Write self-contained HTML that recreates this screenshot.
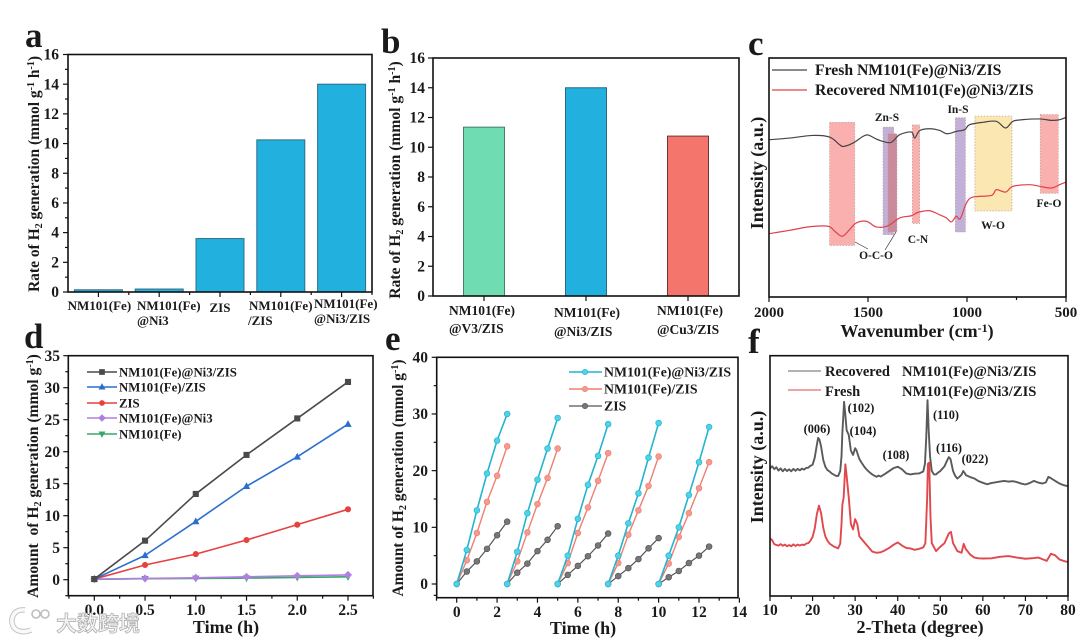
<!DOCTYPE html>
<html lang="en">
<head>
<meta charset="utf-8">
<title>Hydrogen generation composite figure</title>
<style>
html,body{margin:0;padding:0;background:#fff;width:1080px;height:641px;overflow:hidden}
svg{display:block;filter:blur(0.35px)}
text{font-family:"Liberation Serif","Noto Serif CJK SC",serif;font-weight:bold;fill:#1a1a1a}
</style>
</head>
<body>
<svg id="figure" xmlns="http://www.w3.org/2000/svg" width="1080" height="641" viewBox="0 0 1080 641"></svg>
<script>
/* ---------- panel a ---------- */
const aCategories = [["NM101(Fe)"],["NM101(Fe)","@Ni3"],["ZIS"],["NM101(Fe)","/ZIS"],["NM101(Fe)","@Ni3/ZIS"]];
const aValues = [0.15,0.2,3.6,10.25,14.0];
const aTicks = [0,2,4,6,8,10,12,14,16];
/* ---------- panel b ---------- */
const bCategories = [["NM101(Fe)","@V3/ZIS"],["NM101(Fe)","@Ni3/ZIS"],["NM101(Fe)","@Cu3/ZIS"]];
const bValues = [11.35,14.0,10.75];
const bTicks = [0,2,4,6,8,10,12,14,16];
/* ---------- panel c ---------- */
const cFreshWave = [2000,1896,1778,1694,1643,1623,1576,1525,1500,1458,1424,1382,1340,1281,1264,1239,1189,1138,1101,1054,1012,987,919,852,805,768,717,633,574,532,500];
const cFreshValue = [65.8,66.5,67.6,66.9,63.7,63.0,64.4,67.2,67.8,66.1,65.1,64.7,67.9,69.0,66.5,69.6,70.4,69.7,68.3,69.3,70.0,72.1,73.1,73.5,70.7,73.5,74.2,74.5,73.9,74.2,75.2];
const cRecoveredWave = [2000,1896,1795,1702,1668,1630,1593,1559,1508,1458,1399,1340,1281,1247,1189,1138,1104,1079,1054,1034,1003,970,877,852,805,768,683,633,574,532,500];
const cRecoveredValue = [26.5,27.9,29.4,29.6,27.5,25.4,28.2,31.0,31.7,29.3,29.8,33.1,34.0,35.4,36.1,34.4,33.1,31.4,33.8,32.8,39.3,41.8,42.5,44.9,43.9,46.3,47.0,46.3,45.6,47.0,48.1];
const cTicks = [2000,1500,1000,500];
const cBandFrom = [1694,1424,1399,1276,1059,960,630];
const cBandTo = [1567,1370,1354,1239,1008,773,539];
const cBandHigh = [73.1,71.1,68.3,72.0,75.0,75.7,76.3];
const cBandLow = [21.6,26.1,27.2,30.8,27.2,36.0,43.4];
const cBandKinds = ["pink","purple","rose","pink","purple","yellow","pink"];
/* ---------- panel d ---------- */
const dTimes = [0,0.5,1.0,1.5,2.0,2.5];
const dComposite = [0.1,6.1,13.4,19.5,25.2,30.9];
const dBinary = [0.1,3.8,9.1,14.6,19.2,24.3];
const dZis = [0.1,2.3,4.0,6.2,8.6,11.0];
const dNi3 = [0.1,0.2,0.3,0.45,0.6,0.75];
const dMof = [0.05,0.15,0.2,0.25,0.35,0.45];
const dXTicks = [0,0.5,1.0,1.5,2.0,2.5];
const dYTicks = [0,5,10,15,20,25,30,35];
/* ---------- panel e ---------- */
const eCycleTimes = [0,0.5,1.0,1.5,2.0,2.5];
const eCycleStarts = [0,2.5,5,7.5,10];
const eComposite = [[0,6,13,19.5,25.3,30],[0,5.7,12.5,18.4,23.9,29.3],[0,5,11.5,17.5,22.6,28.2],[0,5,10.7,16,22.3,28.4],[0,5,10,15.7,21.5,27.7]];
const eBinary = [[0,4.2,9,14.5,19.1,24.3],[0,4,9.1,14.1,18.7,23.9],[0,3.7,9,13.5,18.2,23.1],[0,3.7,8.7,13,17.3,22.5],[0,3.6,8.3,12.5,16.9,21.5]];
const eZis = [[0,2.2,4,6.2,8.6,11],[0,2,3.6,5.8,7.8,10.2],[0,1.6,3.2,4.9,6.8,8.9],[0,1.4,2.8,4.4,6.3,8.1],[0,1.2,2.3,3.7,5,6.6]];
const eXTicks = [0,2,4,6,8,10,12,14];
const eYTicks = [0,10,20,30,40];
/* ---------- panel f ---------- */
const fRecoveredTheta = [10,10.5,11,11.5,12,12.5,13,13.5,14,14.5,15,15.5,16,16.5,17,17.5,18,18.5,19,19.5,20,20.5,21,21.3,21.6,22,22.5,23,23.5,24,24.5,25,25.5,26,26.5,26.8,27,27.2,27.4,27.7,28,28.5,29,29.5,30,30.3,30.7,31,31.5,32,32.5,33,33.5,34,35,35.5,36,37,38,39,40,41,42,43,44,45,46,46.4,46.7,47,47.3,47.6,48,48.5,49,49.5,50,50.5,51,51.5,52,52.4,53,53.5,54,54.5,55,55.4,55.8,56,57,58,59,60,61,62,63,64,65,66,67,68,69,70,71,72,73,74,74.8,75.4,76,77,78,79,80];
const fRecoveredValue = [53.1,54.0,52.8,53.6,52.2,53.1,51.9,52.9,52.0,52.7,51.9,52.9,52.1,52.9,52.3,53.0,52.6,53.3,53.4,54.2,54.6,57.5,62.8,65.8,65.2,62.2,56.7,53.8,52.4,51.8,51.0,50.5,50.0,49.9,52.0,58.2,68,74,80.8,75.4,69,67,60.5,58.7,61.5,60.7,58.5,57,55.5,54.2,53,52.1,51.3,50.6,49.6,50.1,49.7,50.8,52,53.2,53.8,52.7,51,50.6,50.9,51,51.8,55,66,81.5,68,58,52,50.6,50.6,51.4,52,53,54,56,57.8,57,52,50,48.9,49.6,50.5,52,51,50.3,49.5,48.9,47.8,47.1,46.5,47.0,47.3,47.6,47.9,47.6,47.8,47.4,46.8,46.4,47,47.9,47.2,46.8,47.3,49.6,49,47.9,46.8,46.1,45.7];
const fFreshTheta = [10,10.5,11,11.5,12,12.5,13,13.5,14,14.5,15,15.5,16,16.5,17,17.5,18,18.5,19,19.5,20,20.5,21,21.5,22,22.5,23,23.5,24,25,26,26.5,26.8,27,27.3,27.7,28,28.5,29,29.5,30,30.5,31,32,33,34,35,36,37,38,39,40,41,42,43,44,45,46,46.5,46.9,47.1,47.4,47.7,48,49,50,51,52,52.5,53,54,55,55.5,56,57,58,59,60,62,64,66,68,70,72,73,75,76,77,78,79,80];
const fFreshValue = [24,23.2,21.6,21.2,21.0,21.6,20.9,21.4,20.7,21.2,20.7,21.5,20.8,21.4,21.0,21.4,21.2,21.8,22,23,24.6,28,34,37.6,34.5,28.5,24.8,23,21.8,20.6,19.8,21.8,30,38,41,54.8,50,41,30,27.7,32,30,24.8,22.7,20.6,18.5,18,18.2,19,20,21.3,22.3,21,20,19.8,19.2,19.6,20.2,22,40,55,55.5,33,22,18.7,20.5,22,26,26.7,22,18.7,18,21.7,19.5,17.3,16,15.7,15.6,15.7,16.3,16.6,16,15.5,15.8,16,14.6,17.6,16.9,15.2,14.6,14.1];
const fTicks = [10,20,30,40,50,60,70,80];

const svg = document.getElementById('figure');
const NS = 'http://www.w3.org/2000/svg';

function mk(type, attrs, name, parent) {
  const el = document.createElementNS(NS, type);
  for (const k in attrs) el.setAttribute(k, attrs[k]);
  
  
  (parent || svg).appendChild(el);
  return el;
}
function txt(x, y, html, size, name, anchor, rot, parent) {
  const a = {x: x, y: y, 'font-size': size, 'text-anchor': anchor || 'start'};
  if (rot) a.transform = 'rotate(-90 ' + x + ' ' + y + ')';
  const el = mk('text', a, name, parent);
  el.innerHTML = html;
  return el;
}
function scale(d0, d1, r0, r1) {
  return function (v) { return r0 + (v - d0) / (d1 - d0) * (r1 - r0); };
}
function frame(name, L, T, R, B) {
  return mk('rect', {x: L, y: T, width: R - L, height: B - T, fill: 'none', stroke: '#111', 'stroke-width': 1.6}, name);
}
function tick(x1, y1, x2, y2, name) {
  mk('line', {x1: x1, y1: y1, x2: x2, y2: y2, stroke: '#111', 'stroke-width': 1.2}, name);
}
function yAxis(prefix, ticks, Y, L, labelRight, size, minorStep) {
  ticks.forEach(function (v, i) {
    tick(L, Y(v), L - 5, Y(v), prefix + '-y-tick');
    txt(labelRight, Y(v) + size * 0.33, String(v), size, prefix + '-y-tick-label', 'end');
    if (minorStep && i < ticks.length - 1) tick(L, Y(v + minorStep), L - 3, Y(v + minorStep), prefix + '-y-minor-tick');
  });
}
function xAxis(prefix, ticks, labels, X, B, baseline, size, minorStep, lowerLimit, upperLimit) {
  ticks.forEach(function (v, i) {
    tick(X(v), B, X(v), B + 5, prefix + '-x-tick');
    txt(X(v), baseline, labels[i], size, prefix + '-x-tick-label', 'middle');
    if (minorStep && v + minorStep <= upperLimit) tick(X(v + minorStep), B, X(v + minorStep), B + 3, prefix + '-x-minor-tick');
  });
  if (minorStep && ticks[0] - minorStep >= lowerLimit) tick(X(ticks[0] - minorStep), B, X(ticks[0] - minorStep), B + 3, prefix + '-x-minor-tick');
}
function polyline(xs, ys, color, width, name) {
  const pts = xs.map(function (v, i) { return v.toFixed(2) + ',' + ys[i].toFixed(2); }).join(' ');
  return mk('polyline', {points: pts, fill: 'none', stroke: color, 'stroke-width': width, 'stroke-linejoin': 'round'}, name);
}
function smoothLine(xs, ys, color, width, name) {
  let d = 'M' + xs[0].toFixed(2) + ' ' + ys[0].toFixed(2);
  for (let i = 0; i < xs.length - 1; i++) {
    const p = Math.max(i - 1, 0), n = Math.min(i + 2, xs.length - 1);
    const c1x = xs[i] + (xs[i + 1] - xs[p]) / 6, c1y = ys[i] + (ys[i + 1] - ys[p]) / 6;
    const c2x = xs[i + 1] - (xs[n] - xs[i]) / 6, c2y = ys[i + 1] - (ys[n] - ys[i]) / 6;
    d += ' C' + c1x.toFixed(2) + ' ' + c1y.toFixed(2) + ' ' + c2x.toFixed(2) + ' ' + c2y.toFixed(2) + ' ' + xs[i + 1].toFixed(2) + ' ' + ys[i + 1].toFixed(2);
  }
  return mk('path', {d: d, fill: 'none', stroke: color, 'stroke-width': width}, name);
}
function marker(kind, cx, cy, r, fill, stroke, name) {
  const sw = 0.7;
  if (kind === 'circle') return mk('circle', {cx: cx, cy: cy, r: r, fill: fill, stroke: stroke, 'stroke-width': sw}, name);
  if (kind === 'square') return mk('rect', {x: cx - r, y: cy - r, width: 2 * r, height: 2 * r, fill: fill, stroke: stroke, 'stroke-width': sw}, name);
  let pts;
  if (kind === 'up') pts = [[cx, cy - r - 0.6], [cx + r + 0.4, cy + r - 0.3], [cx - r - 0.4, cy + r - 0.3]];
  if (kind === 'down') pts = [[cx, cy + r + 0.6], [cx + r + 0.4, cy - r + 0.3], [cx - r - 0.4, cy - r + 0.3]];
  if (kind === 'diamond') pts = [[cx, cy - r - 0.8], [cx + r + 0.8, cy], [cx, cy + r + 0.8], [cx - r - 0.8, cy]];
  return mk('polygon', {points: pts.map(function (p) { return p.join(','); }).join(' '), fill: fill, stroke: stroke, 'stroke-width': sw}, name);
}
function sup(t, s) { return '<tspan dy="-5" font-size="' + s + '">' + t + '</tspan>'; }
function h2Title(before, after, s, sub) {
  return before + 'H<tspan dy="3" font-size="' + sub + '">2</tspan><tspan dy="-3"> generation (mmol g</tspan>' + after;
}

/* panel letters */
txt(25, 47, 'a', 35, 'panel-label-a');
txt(381, 53, 'b', 35, 'panel-label-b');
txt(748, 55, 'c', 35, 'panel-label-c');
txt(24, 348, 'd', 35, 'panel-label-d');
txt(385, 350, 'e', 35, 'panel-label-e');
txt(748, 353, 'f', 35, 'panel-label-f');

/* ===== Panel a ===== */
(function () {
  const L = 68, R = 372, T = 54.5, B = 292;
  const Y = scale(0, 16, B, T), X = scale(-0.5, 4.5, L, R);
  aValues.forEach(function (v, i) {
    mk('rect', {x: X(i) - 24, y: Y(v), width: 48, height: B - Y(v), fill: '#22b0de', stroke: '#2f6f86', 'stroke-width': 1}, 'bar-a-' + (i + 1));
  });
  frame('panel-a-frame', L, T, R, B);
  yAxis('panel-a', aTicks, Y, L, 59, 15.5, 1);
  aCategories.forEach(function (c, i) {
    tick(X(i), B, X(i), B + 5, 'panel-a-x-tick');
    tick(X(i + 0.5), B, X(i + 0.5), B + 3, 'panel-a-x-minor-tick');
  });
  txt(X(0) + 1, 310, aCategories[0][0], 13, 'panel-a-category-label', 'middle');
  txt(137, 310, aCategories[1][0], 13, 'panel-a-category-label');
  txt(137, 325, aCategories[1][1], 13, 'panel-a-category-label');
  txt(X(2), 312, aCategories[2][0], 13, 'panel-a-category-label', 'middle');
  txt(249, 310, aCategories[3][0], 13, 'panel-a-category-label');
  txt(248, 325, aCategories[3][1], 13, 'panel-a-category-label');
  txt(314, 308, aCategories[4][0], 13, 'panel-a-category-label');
  txt(314, 323, aCategories[4][1], 13, 'panel-a-category-label');
  txt(39, 174, h2Title('Rate of ', sup('-1', 10) + '<tspan dy="5"> h</tspan>' + sup('-1', 10) + '<tspan dy="5">)</tspan>', 15.5, 10), 15.5, 'panel-a-y-title', 'middle', true);
})();

/* ===== Panel b ===== */
(function () {
  const L = 433, R = 739, T = 58, B = 296;
  const Y = scale(0, 16, B, T), X = scale(-0.5, 2.5, L, R);
  const fills = ['#6fdcb2', '#22b0de', '#f3756c'];
  const strokes = ['#44806a', '#2b6a80', '#6b3a36'];
  bValues.forEach(function (v, i) {
    mk('rect', {x: X(i) - 20.5, y: Y(v), width: 41, height: B - Y(v), fill: fills[i], stroke: strokes[i], 'stroke-width': 1}, 'bar-b-' + (i + 1));
    tick(X(i), B, X(i), B + 5, 'panel-b-x-tick');
  });
  frame('panel-b-frame', L, T, R, B);
  yAxis('panel-b', bTicks, Y, L, 425, 15.5, 0);
  const lx = [449, 554, 657], l1 = [315, 317, 315], l2 = [333, 336, 334];
  bCategories.forEach(function (c, i) {
    txt(lx[i], l1[i], c[0], 13.5, 'panel-b-category-label');
    txt(lx[i], l2[i], c[1], 13.5, 'panel-b-category-label');
  });
  txt(400, 180, h2Title('Rate of ', sup('-1', 10) + '<tspan dy="5"> h</tspan>' + sup('-1', 10) + '<tspan dy="5">)</tspan>', 15.6, 10), 15.6, 'panel-b-y-title', 'middle', true);
})();

/* ===== Panel c ===== */
(function () {
  const L = 769, R = 1066, T = 58, B = 297;
  const X = scale(2000, 500, L, R), Y = scale(0, 100, B, T);
  const fills = {pink: '#fbb0b0', purple: '#c3b0d8', rose: '#c98a9c', yellow: '#fbe7b2'};
  cBandFrom.forEach(function (f, i) {
    mk('rect', {x: X(f), y: Y(cBandHigh[i]), width: X(cBandTo[i]) - X(f), height: Y(cBandLow[i]) - Y(cBandHigh[i]), fill: fills[cBandKinds[i]], stroke: '#b9a08f', 'stroke-width': 0.7, 'stroke-dasharray': '1.5 1.5'}, 'band-' + cBandKinds[i]);
  });
  smoothLine(cFreshWave.map(X), cFreshValue.map(Y), '#444', 1.2, 'line-fresh-ftir');
  smoothLine(cRecoveredWave.map(X), cRecoveredValue.map(Y), '#e2404a', 1.2, 'line-recovered-ftir');
  frame('panel-c-frame', L, T, R, B);
  xAxis('panel-c', cTicks, cTicks.map(String), X, B, 317, 15, 250, 2000, 500);
  tick(X(750), B, X(750), B + 3, 'panel-c-x-minor-tick');
  txt(917, 337, 'Wavenumber (cm' + sup('-1', 12) + '<tspan dy="5">)</tspan>', 18, 'panel-c-x-title', 'middle');
  txt(763, 173, 'Intensity (a.u.)', 18, 'panel-c-y-title', 'middle', true);
  mk('line', {x1: 772, y1: 70, x2: 807, y2: 70, stroke: '#444', 'stroke-width': 1.2}, 'legend-line-fresh');
  txt(815, 75, 'Fresh NM101(Fe)@Ni3/ZIS', 15.7, 'legend-label-fresh');
  mk('line', {x1: 772, y1: 90, x2: 807, y2: 90, stroke: '#e2404a', 'stroke-width': 1.2}, 'legend-line-recovered');
  txt(815, 95, 'Recovered NM101(Fe)@Ni3/ZIS', 15.7, 'legend-label-recovered');
  txt(887, 121, 'Zn-S', 11.5, 'annotation-zn-s', 'middle');
  txt(958, 113, 'In-S', 11.5, 'annotation-in-s', 'middle');
  txt(918, 243, 'C-N', 11.5, 'annotation-c-n', 'middle');
  txt(876, 259, 'O-C-O', 11.5, 'annotation-o-c-o', 'middle');
  txt(993, 229, 'W-O', 11.5, 'annotation-w-o', 'middle');
  txt(1049, 207, 'Fe-O', 11.5, 'annotation-fe-o', 'middle');
  mk('line', {x1: 855, y1: 242, x2: 868, y2: 249, stroke: '#333', 'stroke-width': 0.7}, 'leader-line-o-c-o');
  mk('line', {x1: 896, y1: 232, x2: 885, y2: 250, stroke: '#333', 'stroke-width': 0.7}, 'leader-line-o-c-o');
})();

/* ===== Panel d ===== */
(function () {
  const L = 68.3, R = 373, T = 355.7, B = 595.7;
  const X = scale(0, 2.5, 94.3, 348), Y = scale(0, 35, 579.7, 355.7);
  const series = [
    {v: dMof, c: '#3aa66b', m: 'down', n: 'NM101(Fe)', ly: 434},
    {v: dNi3, c: '#b27fe0', m: 'diamond', n: 'NM101(Fe)@Ni3', ly: 418},
    {v: dZis, c: '#e8403f', m: 'circle', n: 'ZIS', ly: 403},
    {v: dBinary, c: '#2a6fd0', m: 'up', n: 'NM101(Fe)/ZIS', ly: 387},
    {v: dComposite, c: '#4a4a4a', m: 'square', n: 'NM101(Fe)@Ni3/ZIS', ly: 372}
  ];
  series.forEach(function (s) {
    polyline(dTimes.map(X), s.v.map(Y), s.c, 1.6, 'line-' + s.n);
    s.v.forEach(function (v, i) { marker(s.m, X(dTimes[i]), Y(v), 2.7, s.c, s.c, 'point-' + s.n); });
    mk('line', {x1: 87, y1: s.ly, x2: 117, y2: s.ly, stroke: s.c, 'stroke-width': 1.6}, 'legend-line-' + s.n);
    marker(s.m, 102, s.ly, 2.5, s.c, s.c, 'legend-marker-' + s.n);
    txt(119, s.ly + 4.3, s.n, 12.8, 'legend-label-' + s.n);
  });
  frame('panel-d-frame', L, T, R, B);
  yAxis('panel-d', dYTicks, Y, L, 60, 15.5, 2.5);
  tick(L, Y(-2.5), L - 3, Y(-2.5), 'panel-d-y-minor-tick');
  xAxis('panel-d', dXTicks, dXTicks.map(function (v) { return v.toFixed(1); }), X, B, 615, 15.5, 0.25, -0.25, 2.75);
  txt(226, 633, 'Time (h)', 18, 'panel-d-x-title', 'middle');
  txt(38, 476, h2Title('Amount &#160;of ', sup('-1', 10) + '<tspan dy="5">)</tspan>', 15.6, 10), 15.6, 'panel-d-y-title', 'middle', true);
})();

/* ===== Panel e ===== */
(function () {
  const L = 436.7, R = 738, T = 357.3, B = 597.7;
  const X = scale(0, 12, 456.7, 699), Y = scale(0, 40, 584, 357.3);
  const series = [
    {d: eZis, c: '#555', f: '#777', n: 'ZIS', ly: 406, w: 1.2},
    {d: eBinary, c: '#ee7f72', f: '#f59a8f', n: 'NM101(Fe)/ZIS', ly: 389, w: 1.4},
    {d: eComposite, c: '#25b4cf', f: '#4fd3e8', n: 'NM101(Fe)@Ni3/ZIS', ly: 372, w: 1.6}
  ];
  series.forEach(function (s) {
    s.d.forEach(function (cycle, k) {
      const xs = eCycleTimes.map(function (t) { return X(eCycleStarts[k] + t); });
      polyline(xs, cycle.map(Y), s.c, s.w, 'line-cycle-' + (k + 1) + '-' + s.n);
      cycle.forEach(function (v, i) { marker('circle', xs[i], Y(v), 2.9, s.f, s.c, 'point-' + s.n); });
    });
    mk('line', {x1: 569, y1: s.ly, x2: 602, y2: s.ly, stroke: s.c, 'stroke-width': s.w}, 'legend-line-' + s.n);
    marker('circle', 585, s.ly, 2.7, s.f, s.c, 'legend-marker-' + s.n);
    txt(604, s.ly + 4.5, s.n, 13.8, 'legend-label-' + s.n);
  });
  frame('panel-e-frame', L, T, R, B);
  yAxis('panel-e', eYTicks, Y, L, 428, 15.5, 5);
  tick(L, Y(-2), L - 3, Y(-2), 'panel-e-y-minor-tick');
  xAxis('panel-e', eXTicks, eXTicks.map(String), X, B, 617, 15.5, 1, -1, 14);
  txt(583, 634, 'Time (h)', 18, 'panel-e-x-title', 'middle');
  txt(403, 478, h2Title('Amount of ', sup('-1', 10) + '<tspan dy="5">)</tspan>', 15.4, 10), 15.4, 'panel-e-y-title', 'middle', true);
})();

/* ===== Panel f ===== */
(function () {
  const L = 770, R = 1068, T = 355.7, B = 596;
  const X = scale(10, 80, L, R), Y = scale(0, 100, B, T);
  polyline(fRecoveredTheta.map(X), fRecoveredValue.map(Y), '#5a5a5a', 1.9, 'line-recovered-xrd');
  polyline(fFreshTheta.map(X), fFreshValue.map(Y), '#e2474c', 1.9, 'line-fresh-xrd');
  frame('panel-f-frame', L, T, R, B);
  xAxis('panel-f', fTicks, fTicks.map(String), X, B, 615, 15.5, 5, 10, 80);
  txt(920, 633, '2-Theta (degree)', 18, 'panel-f-x-title', 'middle');
  txt(763, 467, 'Intensity (a.u.)', 18, 'panel-f-y-title', 'middle', true);
  mk('line', {x1: 788, y1: 371, x2: 821, y2: 371, stroke: '#666', 'stroke-width': 1}, 'legend-line-recovered-xrd');
  txt(825, 376, 'Recovered', 14.5, 'legend-label-recovered-xrd');
  txt(902, 376, 'NM101(Fe)@Ni3/ZIS', 14.6, 'legend-label-recovered-sample');
  mk('line', {x1: 788, y1: 390, x2: 821, y2: 390, stroke: '#e2474c', 'stroke-width': 1}, 'legend-line-fresh-xrd');
  txt(825, 396, 'Fresh', 14.5, 'legend-label-fresh-xrd');
  txt(902, 396, 'NM101(Fe)@Ni3/ZIS', 14.6, 'legend-label-fresh-sample');
  txt(817, 433, '(006)', 12.3, 'peak-label-006', 'middle');
  txt(861, 412, '(102)', 12.3, 'peak-label-102', 'middle');
  txt(863, 435, '(104)', 12.3, 'peak-label-104', 'middle');
  txt(896, 459, '(108)', 12.3, 'peak-label-108', 'middle');
  txt(946, 419, '(110)', 12.3, 'peak-label-110', 'middle');
  txt(949, 452, '(116)', 12.3, 'peak-label-116', 'middle');
  txt(975, 463, '(022)', 12.3, 'peak-label-022', 'middle');
})();

/* ===== Watermark ===== */
(function () {
  const g = mk('g', {}, 'watermark');
  const arc = 'M25 610 C13 609 10 619 13 626 C16 632 24 633 31 630';
  mk('path', {d: arc, fill: 'none', stroke: '#c4c4c4', 'stroke-width': 5.5}, 'watermark-logo-outline', g);
  mk('path', {d: arc, fill: 'none', stroke: '#fafafa', 'stroke-width': 3.5}, 'watermark-logo-arc', g);
  mk('circle', {cx: 36, cy: 614, r: 4, fill: '#fff', stroke: '#bdbdbd', 'stroke-width': 1.6}, 'watermark-logo-dot', g);
  mk('circle', {cx: 45, cy: 614, r: 4, fill: '#fff', stroke: '#bdbdbd', 'stroke-width': 1.6}, 'watermark-logo-dot', g);
  const t = txt(56, 631, '大数跨境', 21, 'watermark-text', 'start', false, g);
  t.setAttribute('style', 'font-family:"Liberation Sans","Noto Sans CJK SC",sans-serif;font-weight:bold;fill:#f2f2f2;stroke:#aaa;stroke-width:0.7');
})();
</script>
</body>
</html>
